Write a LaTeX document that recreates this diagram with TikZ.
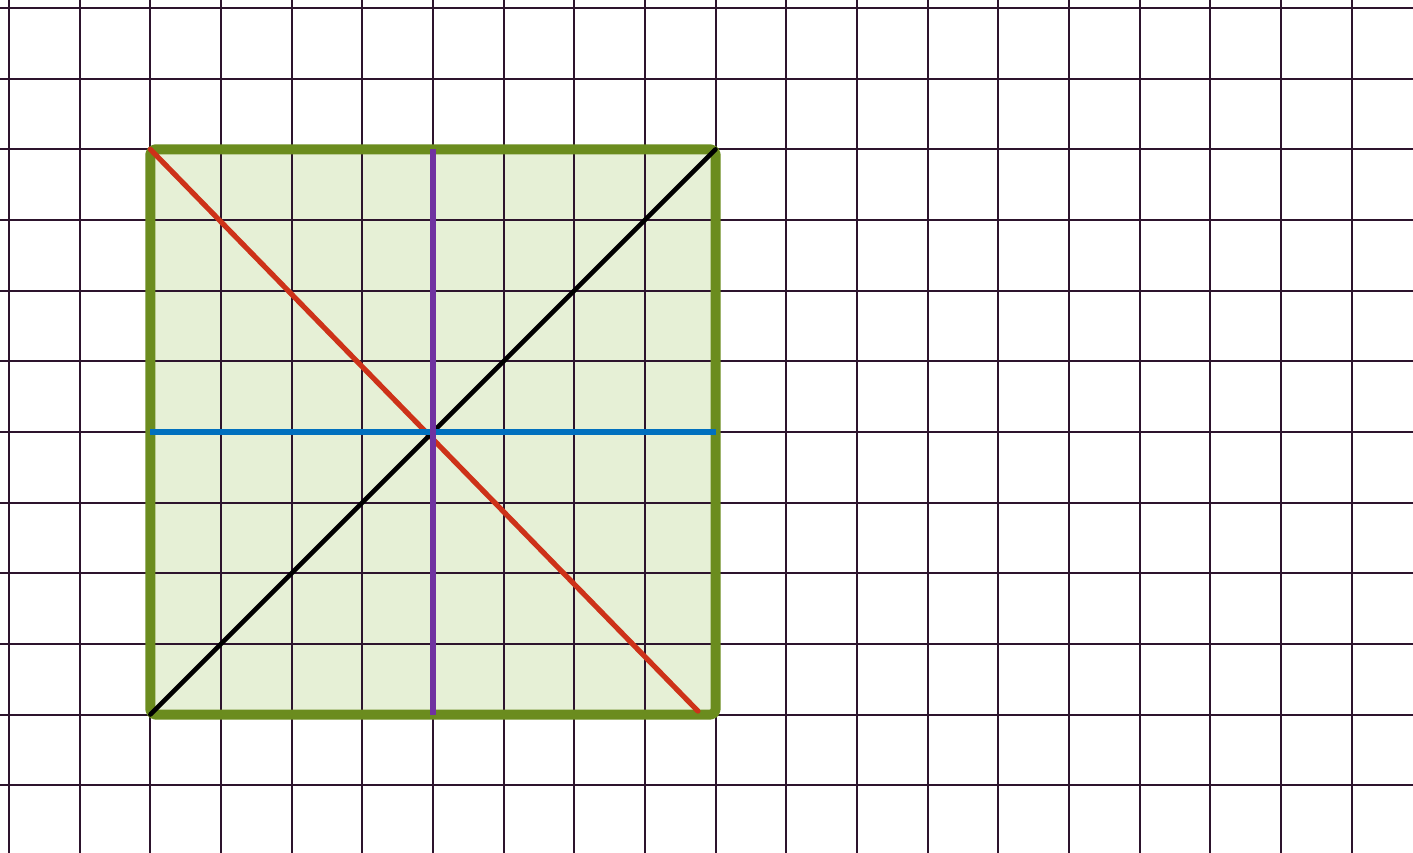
\documentclass[tikz,border=0pt]{standalone}
\usepackage{xcolor}
\usepackage{tikz}
\usetikzlibrary{positioning}
\definecolor{gridc}{RGB}{45,20,45}
\definecolor{sqfill}{RGB}{230,240,214}
\definecolor{sqedge}{RGB}{107,140,30}
\definecolor{redc}{RGB}{205,50,25}
\definecolor{bluec}{RGB}{0,112,190}
\definecolor{purc}{RGB}{112,50,160}

\begin{document}
\begin{tikzpicture}[line cap=round,line join=round]
  \def\lw{2.1pt}
  \useasboundingbox (-0.127,-11.95) rectangle (19.87,0.113);
  \fill[white] (-0.127,-11.95) rectangle (19.87,0.113);
  % corners of the square, centre and side midpoints
  \coordinate (tl) at (2,-2);
  \coordinate (tr) at (10,-2);
  \coordinate (bl) at (2,-10);
  \coordinate (br) at (10,-10);
  \coordinate (redend) at (9.75,-9.95);
  \coordinate (tm) at (6,-2);
  \coordinate (bm) at (6,-10);
  \coordinate (lm) at (2,-6);
  \coordinate (rm) at (10,-6);
  \fill[sqfill] (tl) rectangle (br);
  % grid
  \begin{scope}
    \clip (-0.127,-11.95) rectangle (19.87,0.113);
    \foreach \x in {0,...,19}
      \draw[gridc,line width=0.8pt] (\x,0.2)--(\x,-12);
    \foreach \y in {0,...,11}
      \draw[gridc,line width=0.8pt] (-0.2,-\y)--(20,-\y);
  \end{scope}
  \draw[sqedge,line width=4pt,rounded corners=2pt] (tl) rectangle (br);
  % diagonals and middle lines
  \draw[redc,line width=\lw] (tl)--(redend);
  \draw[black,line width=1.8pt] (bl)--(tr);
  \draw[bluec,line width=\lw,line cap=butt] (lm)--(rm);
  \draw[purc,line width=\lw,line cap=butt] (tm)--(bm);
\end{tikzpicture}
\end{document}
